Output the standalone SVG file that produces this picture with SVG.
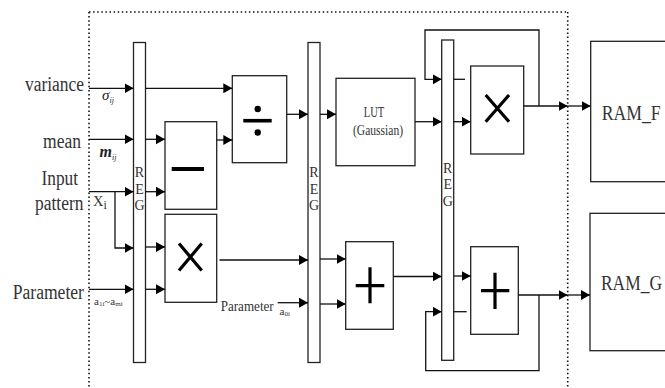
<svg xmlns="http://www.w3.org/2000/svg" width="665" height="388" viewBox="0 0 665 388">
  <style>
    .box { fill: #fff; stroke: #222; stroke-width: 1.3; }
    .reg { fill: #fff; stroke: #222; stroke-width: 1.3; }
    .ln { fill: none; stroke: #111; stroke-width: 1.3; }
    .arr { fill: none; stroke: #111; stroke-width: 1.3; marker-end: url(#ah); }
    .dot { fill: none; stroke: #111; stroke-width: 1.6; stroke-dasharray: 1.5 2.6; }
    .sym { fill: none; stroke: #000; stroke-width: 3.2; }
    text { font-family: "Liberation Serif", "DejaVu Serif", serif; fill: #333; }
    .lbl { font-size: 20px; }
    .reglbl { font-size: 14px; text-anchor: middle; }
    .ram { font-size: 21px; }
    .it { font-style: italic; fill: #222; }
  </style>
  <defs>
    <marker id="ah" markerUnits="userSpaceOnUse" markerWidth="10" markerHeight="11" refX="9" refY="5" orient="auto">
      <path d="M0,0 L9,5 L0,10 z" fill="#000"/>
    </marker>
  </defs>

  <!-- chip boundary -->
  <g id="boundary">
    <path class="dot" d="M89,12 H567.7"/>
    <path class="dot" d="M89,12 V388"/>
    <path class="dot" d="M567.7,12 V388"/>
  </g>

  <!-- input labels -->
  <g id="inputs">
    <text class="lbl" x="25" y="91" textLength="59" lengthAdjust="spacingAndGlyphs">variance</text>
    <text class="lbl" x="43" y="147.5" textLength="38" lengthAdjust="spacingAndGlyphs">mean</text>
    <text class="lbl" x="41.5" y="184.5" textLength="36.5" lengthAdjust="spacingAndGlyphs">Input</text>
    <text class="lbl" x="35" y="210" textLength="48.5" lengthAdjust="spacingAndGlyphs">pattern</text>
    <text class="lbl" x="12.7" y="298.5" textLength="71.3" lengthAdjust="spacingAndGlyphs">Parameter</text>
    <text class="it" x="102" y="100" font-size="15">σ<tspan font-size="8" dy="3">ij</tspan></text>
    <text class="it" x="99.5" y="157" font-size="16" font-weight="bold">m<tspan font-size="8" font-weight="normal" dy="3">ij</tspan></text>
    <text x="93" y="205.5" font-size="14.5">X<tspan font-size="12" dy="3">i</tspan></text>
    <text x="94" y="305" font-size="11">a<tspan font-size="7" dy="1">1i</tspan><tspan dy="-1">~a</tspan><tspan font-size="7" dy="1">mi</tspan></text>
    <text x="220.7" y="310.5" font-size="14.5" textLength="53" lengthAdjust="spacingAndGlyphs">Parameter</text>
    <text x="279.5" y="315" font-size="11">a<tspan font-size="7" dy="1">0i</tspan></text>
  </g>

  <!-- register stages -->
  <g id="reg1">
    <rect class="reg" x="133.5" y="42.5" width="12" height="320"/>
    <text class="reglbl" x="139.5" y="176.5">R</text>
    <text class="reglbl" x="139.5" y="193.5">E</text>
    <text class="reglbl" x="139.5" y="210">G</text>
  </g>
  <g id="reg2">
    <rect class="reg" x="308" y="42.5" width="12" height="320"/>
    <text class="reglbl" x="314" y="176.5">R</text>
    <text class="reglbl" x="314" y="193.5">E</text>
    <text class="reglbl" x="314" y="210">G</text>
  </g>
  <g id="reg3">
    <rect class="reg" x="441.7" y="40" width="12" height="320.3"/>
    <text class="reglbl" x="447.7" y="172.5">R</text>
    <text class="reglbl" x="447.7" y="189">E</text>
    <text class="reglbl" x="447.7" y="206">G</text>
  </g>

  <!-- arithmetic units -->
  <g id="sub">
    <rect class="box" x="165" y="121.7" width="51.7" height="87.6"/>
    <path d="M171.7,169 H204" stroke="#000" stroke-width="4.2"/>
  </g>
  <g id="mul1">
    <rect class="box" x="165" y="214.3" width="51.7" height="88"/>
    <path class="sym" d="M179,243.5 L201.7,270.5 M201.7,243.5 L179,270.5"/>
  </g>
  <g id="div">
    <rect class="box" x="232.3" y="75.7" width="54.4" height="87"/>
    <path d="M243.3,120.7 H271.7" stroke="#000" stroke-width="3.6"/>
    <circle cx="257.7" cy="109" r="3.2" fill="#000"/>
    <circle cx="257.7" cy="132.5" r="3.2" fill="#000"/>
  </g>
  <g id="lut">
    <rect class="box" x="336" y="78.3" width="79" height="87.4"/>
    <text x="374" y="117" font-size="15.5" text-anchor="middle" textLength="20.5" lengthAdjust="spacingAndGlyphs">LUT</text>
    <text x="378" y="135" font-size="15.5" text-anchor="middle" textLength="50" lengthAdjust="spacingAndGlyphs">(Gaussian)</text>
  </g>
  <g id="add1">
    <rect class="box" x="345.7" y="241.7" width="47.6" height="87.6"/>
    <path class="sym" d="M355.7,285.7 H384.3 M370,267.3 V303.3"/>
  </g>
  <g id="mul2">
    <rect class="box" x="470.7" y="66" width="53" height="88"/>
    <path class="sym" d="M485.7,95 L509,121.7 M509,95 L485.7,121.7"/>
  </g>
  <g id="add2">
    <rect class="box" x="470.7" y="246.7" width="47.6" height="87.6"/>
    <path class="sym" d="M481,290.7 H509.3 M495,272.7 V309"/>
  </g>

  <!-- memories -->
  <g id="ram_f">
    <rect class="box" x="590.7" y="41.3" width="80" height="140.4"/>
    <text class="ram" x="601.7" y="120" textLength="59" lengthAdjust="spacingAndGlyphs">RAM_F</text>
  </g>
  <g id="ram_g">
    <rect class="box" x="590" y="213.3" width="80" height="137.4"/>
    <text class="ram" x="601" y="290" textLength="61" lengthAdjust="spacingAndGlyphs">RAM_G</text>
  </g>

  <!-- connectors -->
  <g id="connectors">
    <!-- into REG1 -->
    <path class="arr" d="M89,88.3 H133.5"/>
    <path class="arr" d="M89,139.3 H133.5"/>
    <path class="arr" d="M89,191.7 H133.5"/>
    <path class="arr" d="M115,191.7 V248 H133.5"/>
    <path class="arr" d="M89,289.3 H133.5"/>
    <!-- REG1 to units -->
    <path class="arr" d="M145.5,88.3 H232.3"/>
    <path class="arr" d="M145.5,139.3 H165"/>
    <path class="arr" d="M145.5,191.7 H165"/>
    <path class="arr" d="M145.5,247 H165"/>
    <path class="arr" d="M145.5,289.3 H165"/>
    <path class="arr" d="M216.7,140 H232.3"/>
    <!-- into REG2 -->
    <path class="arr" d="M286.7,114.3 H308"/>
    <path class="arr" d="M219.5,260 H308"/>
    <path class="arr" d="M277.7,302.7 H308"/>
    <!-- REG2 to units -->
    <path class="arr" d="M320,114.3 H336"/>
    <path class="arr" d="M320,259 H345.7"/>
    <path class="arr" d="M320,304 H345.7"/>
    <!-- into REG3 -->
    <path class="arr" d="M415,121.7 H441.7"/>
    <path class="arr" d="M393.3,276.5 H441.7"/>
    <!-- REG3 to units -->
    <path class="arr" d="M453.7,121.7 H470.7"/>
    <path class="arr" d="M453.7,276 H470.7"/>
    <path class="ln" d="M453.7,79.3 H465"/>
    <path class="ln" d="M453.7,311.7 H466.7"/>
    <!-- accumulate loops -->
    <path class="arr" d="M539,106 V30 H425 V79.3 H441.7"/>
    <path class="arr" d="M539,295 V370.7 H425.7 V311.7 H441.7"/>
    <!-- to memories -->
    <path class="arr" d="M523.7,106 H567.7"/>
    <path class="arr" d="M567.7,106 H590.7"/>
    <path class="arr" d="M518.3,295 H567.7"/>
    <path class="arr" d="M567.7,295 H590"/>
  </g>
</svg>
